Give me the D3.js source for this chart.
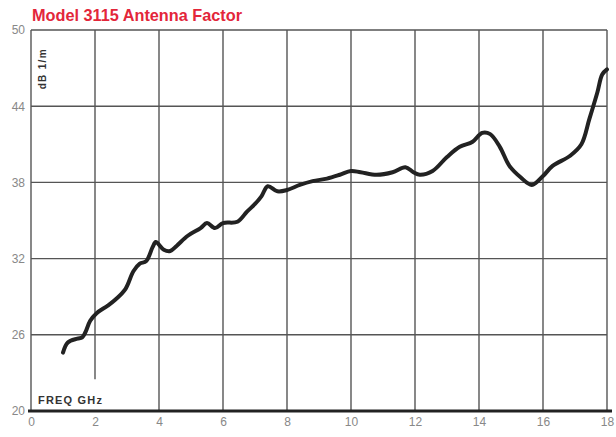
<!DOCTYPE html>
<html>
<head>
<meta charset="utf-8">
<script src="https://cdn.jsdelivr.net/npm/d3@7"></script>
<style>
  body { margin: 0; background: #fff; }
  #chart { width: 616px; height: 437px; }
  text { font-family: "Liberation Sans Narrow", "Liberation Sans", "DejaVu Sans Condensed", sans-serif; }
</style>
</head>
<body>
<div id="chart"></div>
<script>
// Antenna factor curve
const freq = [1.0, 1.15, 1.45, 1.6, 1.7, 1.85, 2.05, 2.4, 2.65, 2.95, 3.2, 3.4, 3.6, 3.8, 3.9, 4.15, 4.35, 4.55, 4.9,
  5.3, 5.5, 5.75, 6.0, 6.45, 6.75, 7.0, 7.2, 7.4, 7.7, 8.0, 8.4, 8.8, 9.25, 9.65, 10.0, 10.3, 10.8, 11.3, 11.7,
  11.95, 12.15, 12.55, 13.0, 13.4, 13.8, 14.1, 14.35, 14.65, 14.95, 15.3, 15.65, 16.0, 16.3, 16.85, 17.2, 17.45,
  17.7, 17.85, 18.0];
const antennaFactor = [24.6, 25.4, 25.7, 25.8, 26.2, 27.1, 27.7, 28.3, 28.8, 29.6, 31.0, 31.6, 31.8, 32.9, 33.3, 32.7,
  32.6, 33.0, 33.8, 34.4, 34.8, 34.4, 34.8, 34.9, 35.7, 36.3, 36.9, 37.7, 37.3, 37.4, 37.8, 38.1, 38.3, 38.6, 38.9,
  38.8, 38.6, 38.8, 39.2, 38.8, 38.6, 38.9, 40.0, 40.8, 41.2, 41.9, 41.8, 40.8, 39.3, 38.4, 37.8, 38.5, 39.3, 40.1,
  41.0, 43.0, 45.1, 46.5, 46.9];
const xTicks = [0, 2, 4, 6, 8, 10, 12, 14, 16, 18];
const yTicks = [20, 26, 32, 38, 44, 50];

const width = 616, height = 437;
const margin = {top: 30, right: 9, bottom: 26, left: 31};
const cWidth = width - margin.left - margin.right;
const cHeight = height - margin.top - margin.bottom;

const svg = d3.select('#chart').append('svg')
  .attr('width', width).attr('height', height);

// title
svg.append('text')
  .attr('x', 32).attr('y', 21)
  .attr('fill', '#e3263a')
  .attr('font-size', 17).attr('font-weight', 'bold')
  .attr('textLength', 210).attr('lengthAdjust', 'spacingAndGlyphs')
  .text('Model 3115 Antenna Factor');

const g = svg.append('g').attr('transform', `translate(${margin.left},${margin.top})`);

const x = d3.scaleLinear().domain([0, 18]).range([0, cWidth]);
const y = d3.scaleLinear().domain([20, 50]).range([cHeight, 0]);

// grid: the 2 GHz line stops short to leave room for the FREQ label
g.append('g').selectAll('line')
  .data(xTicks)
  .enter().append('line')
    .attr('x1', d => x(d)).attr('x2', d => x(d))
    .attr('y1', 0)
    .attr('y2', d => d === 2 ? y(22.5) : cHeight)
    .attr('stroke', '#555').attr('stroke-width', 1.4);

g.append('g').selectAll('line')
  .data(yTicks.filter(d => d > 20))
  .enter().append('line')
    .attr('x1', 0).attr('x2', cWidth)
    .attr('y1', d => y(d)).attr('y2', d => y(d))
    .attr('stroke', '#555').attr('stroke-width', 1.4);

// axes
const xAxis = g.append('g')
  .attr('transform', `translate(0,${cHeight})`)
  .call(d3.axisBottom(x).tickValues(xTicks).tickSize(0).tickPadding(6));
xAxis.select('.domain').remove();
xAxis.selectAll('text').attr('fill', '#888').attr('font-size', 12);

const yAxis = g.append('g')
  .call(d3.axisLeft(y).tickValues(yTicks).tickSize(0).tickPadding(6));
yAxis.select('.domain').remove();
yAxis.selectAll('text').attr('fill', '#888').attr('font-size', 12);

// heavy baseline
g.append('line')
  .attr('x1', -3).attr('x2', cWidth + 5)
  .attr('y1', cHeight).attr('y2', cHeight)
  .attr('stroke', '#222').attr('stroke-width', 3);

// axis labels
g.append('text')
  .attr('x', 7).attr('y', y(20) - 7)
  .attr('fill', '#333').attr('font-size', 11).attr('font-weight', 'bold')
  .attr('textLength', 64).attr('lengthAdjust', 'spacing')
  .text('FREQ GHz');

g.append('text')
  .attr('transform', `translate(${15},${y(46.9)}) rotate(-90)`)
  .attr('text-anchor', 'middle')
  .attr('fill', '#333').attr('font-size', 10).attr('font-weight', 'bold')
  .attr('textLength', 40).attr('lengthAdjust', 'spacing')
  .text('dB 1/m');

// curve
const line = d3.line()
  .x((d, i) => x(freq[i]))
  .y(d => y(d))
  .curve(d3.curveCatmullRom.alpha(0.5));

g.append('path')
  .datum(antennaFactor)
  .attr('fill', 'none')
  .attr('stroke', '#222')
  .attr('stroke-width', 4)
  .attr('stroke-linecap', 'round')
  .attr('stroke-linejoin', 'round')
  .attr('d', line);
</script>
</body>
</html>
